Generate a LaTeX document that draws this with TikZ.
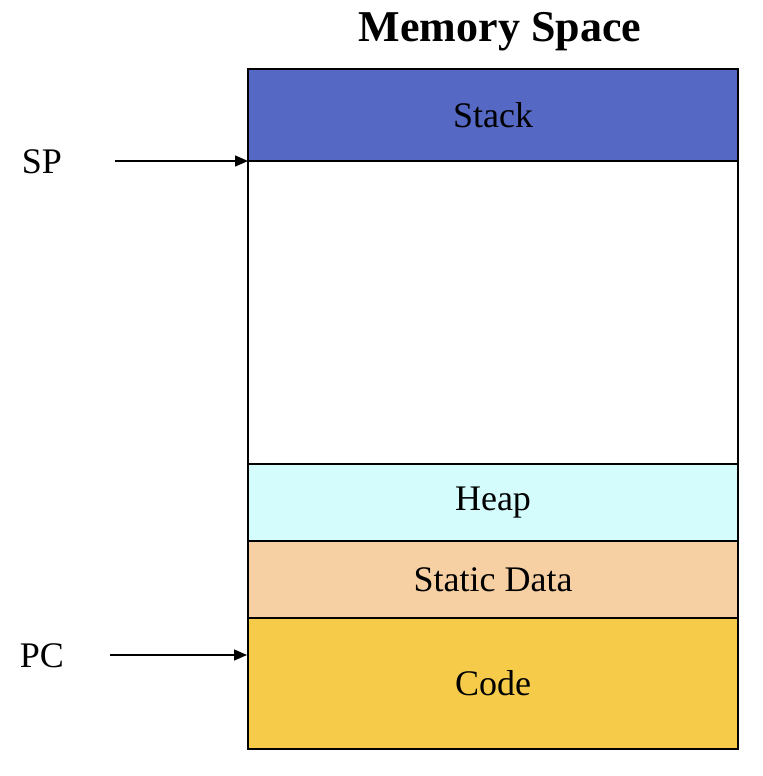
\documentclass[tikz,border=0pt]{standalone}
\usepackage{fontspec}
\setmainfont{Liberation Serif}
\usetikzlibrary{arrows.meta}
\definecolor{stackc}{HTML}{5468C4}
\definecolor{heapc}{HTML}{D5FCFC}
\definecolor{datac}{HTML}{F6CFA3}
\definecolor{codec}{HTML}{F6CB4A}
\tikzset{
  seg/.style={draw=black, line width=0.6pt, anchor=north west, minimum width=245pt, inner sep=0pt, outer sep=0pt, font=\fontsize{18}{20}\selectfont},
  lbl/.style={font=\fontsize{18}{20}\selectfont, inner sep=0pt},
  ptr/.style={-{Triangle[length=6.5pt,width=5.5pt]}, line width=0.7pt}
}
\begin{document}
\begin{tikzpicture}[x=0.5pt,y=-0.5pt]
\useasboundingbox (0,0) rectangle (762,776);
\node[font=\bfseries\fontsize{22}{24}\selectfont] (title) at (500,32) {Memory Space};
\node[seg, fill=stackc, minimum height=46pt] (stack) at (248,69) {Stack};
\node[seg, fill=white, minimum height=151.5pt] (free) at (248,161) {};
\node[seg, fill=heapc, minimum height=38.5pt] (heap) at (248,464) {Heap};
\node[seg, fill=datac, minimum height=38.5pt] (data) at (248,541) {Static Data};
\node[seg, fill=codec, minimum height=65.5pt] (code) at (248,618) {Code};
\node[lbl] (sp) at (42,162) {SP};
\node[lbl] (pc) at (42,656) {PC};
\coordinate (spstart) at (115,161);
\coordinate (pcstart) at (110,655);
\coordinate (pcend) at (247,655);
\draw[ptr] (spstart) -- (stack.south west);
\draw[ptr] (pcstart) -- (pcend);
\end{tikzpicture}
\end{document}
